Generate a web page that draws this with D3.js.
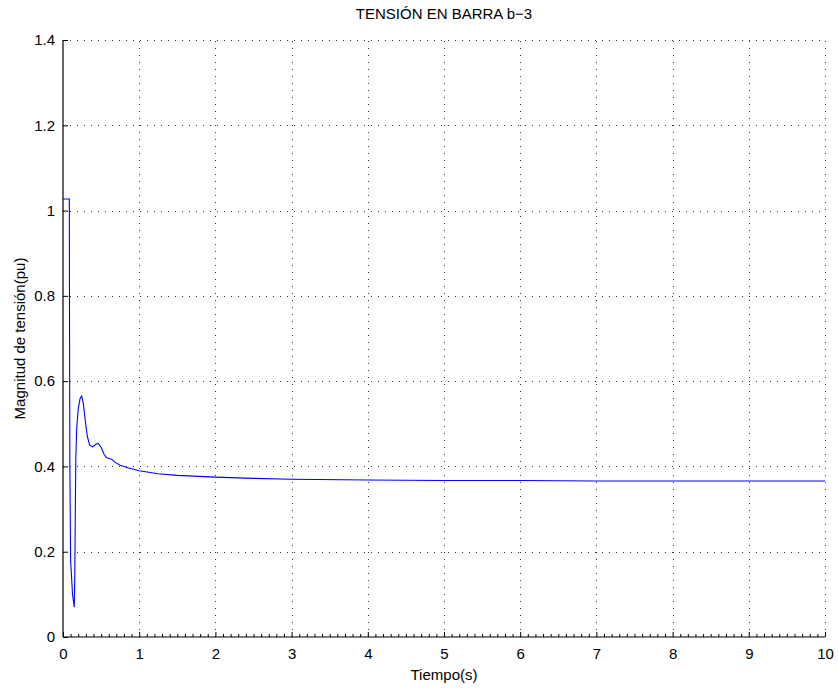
<!DOCTYPE html>
<html>
<head>
<meta charset="utf-8">
<script src="https://cdn.jsdelivr.net/npm/d3@7"></script>
<style>
  html, body { margin: 0; padding: 0; background: #fff; }
  svg { display: block; }
  text { font-family: "Liberation Sans", Arial, Helvetica, sans-serif; fill: #000; }
</style>
</head>
<body>
<svg id="chart" width="838" height="688"></svg>
<script>
// Bus b-3 voltage magnitude (pu) over time (s)
const timeS = [0, 0.083, 0.085, 0.09, 0.10, 0.125, 0.148, 0.155, 0.162, 0.168, 0.18, 0.2, 0.225, 0.245, 0.265, 0.29, 0.32, 0.35, 0.39, 0.43, 0.46, 0.5, 0.54, 0.57, 0.61, 0.64, 0.68, 0.75, 0.85, 1.0, 1.25, 1.5, 2, 2.5, 3, 4, 5, 6, 7, 8, 9, 10];
const voltagePu = [1.027, 1.027, 0.8, 0.4, 0.18, 0.1, 0.07, 0.15, 0.3, 0.42, 0.49, 0.535, 0.56, 0.565, 0.55, 0.51, 0.47, 0.45, 0.446, 0.452, 0.454, 0.445, 0.428, 0.421, 0.418, 0.417, 0.41, 0.403, 0.397, 0.39, 0.383, 0.379, 0.375, 0.372, 0.37, 0.368, 0.367, 0.367, 0.366, 0.366, 0.366, 0.366];
const xTicks = [0, 1, 2, 3, 4, 5, 6, 7, 8, 9, 10];
const yTicks = [0, 0.2, 0.4, 0.6, 0.8, 1, 1.2, 1.4];
const xMinorTicks = d3.range(0, 100).map(i => i / 10).filter(v => !xTicks.includes(v));

const svg = d3.select("#chart");
const plotLeft = 63, plotRight = 825, plotTop = 40, plotBottom = 637;

const x = d3.scaleLinear().domain([0, 10]).range([plotLeft, plotRight]);
const y = d3.scaleLinear().domain([0, 1.4]).range([plotBottom, plotTop]);

// Dotted grid
const grid = svg.append("g").attr("stroke", "#333").attr("stroke-width", 1)
  .attr("stroke-dasharray", "1,6").attr("shape-rendering", "crispEdges");
grid.selectAll("line.gx").data(xTicks.filter(d => d > 0)).join("line")
  .attr("x1", d => Math.round(x(d)) + 0.5).attr("x2", d => Math.round(x(d)) + 0.5)
  .attr("y1", plotBottom).attr("y2", plotTop);
grid.selectAll("line.gy").data(yTicks.filter(d => d > 0)).join("line")
  .attr("y1", d => Math.round(y(d)) + 0.5).attr("y2", d => Math.round(y(d)) + 0.5)
  .attr("x1", plotLeft).attr("x2", plotRight);

// Axes with inward ticks
const xAxis = svg.append("g").attr("transform", `translate(0,${plotBottom})`)
  .call(d3.axisBottom(x).tickValues(xTicks).tickSize(-5).tickPadding(11).tickFormat(d3.format("d")));
const xMinor = svg.append("g").attr("transform", `translate(0,${plotBottom})`)
  .call(d3.axisBottom(x).tickValues(xMinorTicks).tickSize(-3).tickFormat(""));
xMinor.select(".domain").remove();

const yAxis = svg.append("g").attr("transform", `translate(${plotLeft},0)`)
  .call(d3.axisLeft(y).tickValues(yTicks).tickSize(-5).tickPadding(8).tickFormat(d3.format("~g")));

[xAxis, yAxis, xMinor].forEach(g => {
  g.select(".domain").attr("stroke", "#000").attr("stroke-width", 1.2);
  g.selectAll(".tick line").attr("stroke", "#000");
  g.selectAll(".tick text").style("font-size", "15px").attr("fill", "#000");
});
xAxis.selectAll(".domain").attr("d", `M${plotLeft},0H${plotRight}`);
yAxis.selectAll(".domain").attr("d", `M0,${plotBottom}V${plotTop}`);

// Voltage trace
const line = d3.line().x((d, i) => x(timeS[i])).y(d => y(d));
svg.append("path").datum(voltagePu)
  .attr("fill", "none").attr("stroke", "#0000ff").attr("stroke-width", 1.1)
  .attr("d", line);

// Labels
svg.append("text").attr("x", (plotLeft + plotRight) / 2).attr("y", 19)
  .attr("text-anchor", "middle").style("font-size", "15px").text("TENSIÓN EN BARRA b\u22123");
svg.append("text").attr("x", (plotLeft + plotRight) / 2).attr("y", 680)
  .attr("text-anchor", "middle").style("font-size", "15px").text("Tiempo(s)");
svg.append("text").attr("transform", `translate(25,${(plotTop + plotBottom) / 2}) rotate(-90)`)
  .attr("text-anchor", "middle").style("font-size", "15px").text("Magnitud de tensión(pu)");
</script>
</body>
</html>
